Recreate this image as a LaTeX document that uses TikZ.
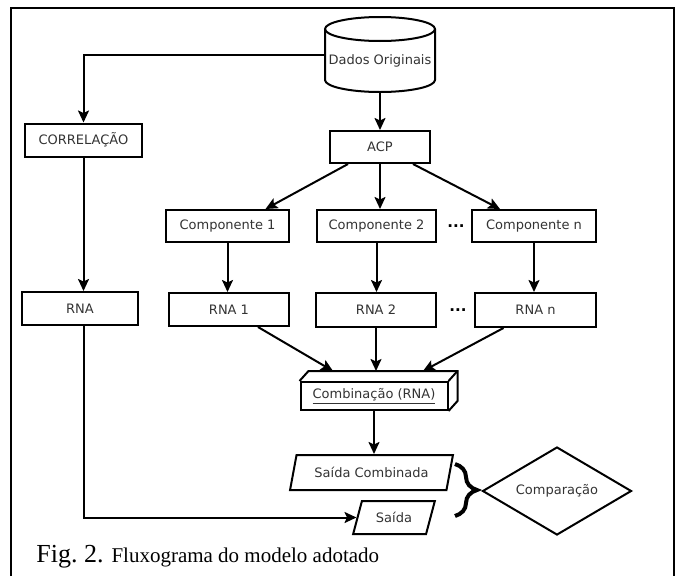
\documentclass[tikz,border=0pt]{standalone}
\usepackage{fontspec}
\setmainfont{Liberation Serif}
\newfontfamily\boxfont{DejaVu Sans}
\usetikzlibrary{arrows.meta, shapes.geometric, decorations.pathreplacing, calc}

\begin{document}
\begin{tikzpicture}[x=1pt, y=-1pt, >={Stealth[length=12pt, width=11pt, inset=2.5pt]},
    line width=2pt,
    every node/.style={font=\boxfont\fontsize{13}{15}\selectfont, text=black!80},
    caixa/.style={draw, rectangle, inner sep=0pt},
    saidas/.style={draw, trapezium, trapezium left angle=65, trapezium right angle=115,
        trapezium stretches=true, inner sep=0pt},
    decisao/.style={draw, diamond, aspect=1.7, inner sep=0pt},
    pontos/.style={font=\boxfont\bfseries\fontsize{15}{15}\selectfont, text=black}]
    \useasboundingbox (0,0) rectangle (677,576);

    % Frame
    \draw[line width=2.6pt] (11,576) |- (674,8) -- (674,576);

    % Data store
    \node[minimum width=110pt, minimum height=75pt, outer sep=0pt] (dados) at (380,54.5) {};
    \node (dadostxt) at (380,61) {Dados Originais};
    \draw ([shift={(0,12)}]dados.north) ellipse [x radius=55pt, y radius=12pt];
    \draw ([shift={(0,12)}]dados.north west) -- ([shift={(0,-12)}]dados.south west)
        arc [start angle=180, end angle=360, x radius=55pt, y radius=12pt]
        -- ([shift={(0,12)}]dados.north east);

    % Left branch
    \node[caixa, minimum width=117pt, minimum height=33pt] (correl) at (83.5,140) {CORRELAÇÃO};
    \node[caixa, minimum width=116pt, minimum height=33pt] (rna) at (80,308.5) {RNA};

    % ACP and components
    \node[caixa, minimum width=100pt, minimum height=32pt] (acp) at (380,147) {ACP};
    \node[caixa, minimum width=123pt, minimum height=32pt] (comp1) at (227.5,226) {Componente 1};
    \node[caixa, minimum width=119pt, minimum height=32pt] (comp2) at (376.5,226) {Componente 2};
    \node[caixa, minimum width=124pt, minimum height=32pt] (compn) at (534,226) {Componente n};
    \node[pontos] (pontos1) at (456,226) {...};

    % Networks
    \node[caixa, minimum width=120pt, minimum height=33pt] (rna1) at (229,309.5) {RNA 1};
    \node[caixa, minimum width=120pt, minimum height=34pt] (rna2) at (376,310) {RNA 2};
    \node[caixa, minimum width=121pt, minimum height=34pt] (rnan) at (535.5,310) {RNA n};
    \node[pontos] (pontos2) at (458,310) {...};

    % Combination box
    \node[caixa, minimum width=147pt, minimum height=28pt] (comb) at (374,396) {\underline{Combinação (RNA)}};
    \draw (comb.north west) -- ++(9,-10) -- ($(comb.north east)+(9,-10)$)
        -- ($(comb.south east)+(9,-10)$) -- (comb.south east);
    \draw (comb.north east) -- ++(9,-10);

    % Outputs
    \node[saidas, minimum width=163pt, minimum height=35pt] (saidac) at (371.5,472.5) {Saída Combinada};
    \node[saidas, minimum width=82pt, minimum height=33pt] (saida) at (394,517.5) {Saída};
    \draw[line width=4pt, decorate, decoration={brace, amplitude=22pt}] (455,464) -- (455,516);
    \node[decisao, minimum width=149pt, minimum height=88pt] (comp) at (557,491) {Comparação};

    % Connectors
    \draw[->] (dados.west) -| (correl.north);
    \draw[->] (dados.south) -- (acp.north);
    \draw[->] (correl.south) -- (correl.south |- rna.north);
    \draw[->] (rna.south -| correl.south) |- (saida.west);
    \draw[->] ([xshift=-32pt]acp.south) -- ([xshift=38pt]comp1.north);
    \draw[->] (acp.south) -- (acp.south |- comp2.north);
    \draw[->] ([xshift=33pt]acp.south) -- ([xshift=-34pt]compn.north);
    \draw[->] (comp1.south) -- (comp1.south |- rna1.north);
    \draw[->] (comp2.south) -- (comp2.south |- rna2.north);
    \draw[->] (compn.south) -- (compn.south |- rnan.north);
    \draw[->] ([xshift=29pt]rna1.south) -- ([shift={(-41,-10)}]comb.north);
    \draw[->] (rna2.south) -- ([shift={(2,-10)}]comb.north);
    \draw[->] ([xshift=-32pt]rnan.south) -- ([shift={(49,-10)}]comb.north);
    \draw[->] (comb.south) -- (comb.south |- saidac.north);

    % Caption
    \node[anchor=base west, font=\rmfamily, text=black] (legenda) at (32,562)
        {{\fontsize{26}{30}\selectfont Fig.\ 2.}\hspace{8pt}{\fontsize{21}{25}\selectfont Fluxograma do modelo adotado}};
\end{tikzpicture}
\end{document}
